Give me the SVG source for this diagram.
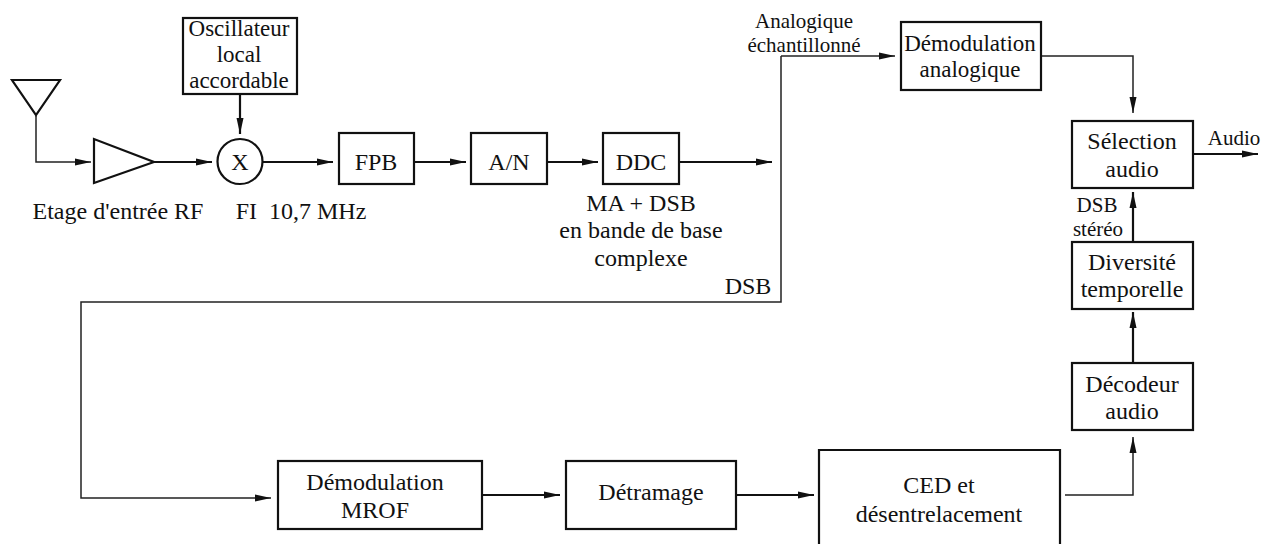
<svg xmlns="http://www.w3.org/2000/svg" width="1261" height="544" viewBox="0 0 1261 544">
<style>
text{font-family:"Liberation Serif","Times New Roman",serif;font-size:24px;fill:#111;text-anchor:middle}
.s{font-size:21px}
.b{fill:#fff;stroke:#111;stroke-width:2.200}
.c{fill:none;stroke:#222;stroke-width:1.500}
.t{fill:none;stroke:#111;stroke-width:2.200}
</style>
<defs>
<marker id="a" markerUnits="userSpaceOnUse" markerWidth="17" markerHeight="9" refX="16" refY="4.500" orient="auto"><path d="M0 1L16 4.500L0 8z" fill="#111"/></marker>
</defs>
<rect width="1261" height="544" fill="#fff"/>
<g id="connectors">
<path class="c" d="M36 116V162H91" marker-end="url(#a)"/>
<path class="t" d="M154 162H212" marker-end="url(#a)"/>
<path class="t" d="M240 94V134" marker-end="url(#a)"/>
<path class="t" d="M263 162H333" marker-end="url(#a)"/>
<path class="t" d="M414 162H466" marker-end="url(#a)"/>
<path class="t" d="M547 162H598" marker-end="url(#a)"/>
<path class="t" d="M679 162H772" marker-end="url(#a)"/>
<path class="c" d="M781 56V302H81V498H271" marker-end="url(#a)"/>
<path class="c" d="M781 56H895" marker-end="url(#a)"/>
<path class="t" d="M482 495H560" marker-end="url(#a)"/>
<path class="t" d="M736 495H814" marker-end="url(#a)"/>
<path class="c" d="M1065 495H1133V437" marker-end="url(#a)"/>
<path class="c" d="M1041 56H1133V113" marker-end="url(#a)"/>
<path class="t" d="M1133 363V312" marker-end="url(#a)"/>
<path class="t" d="M1133 242V192" marker-end="url(#a)"/>
<path class="t" d="M1193 154H1258" marker-end="url(#a)"/>
</g>
<g id="antenna"><path class="t" d="M12 80H60L36 115z"/></g>
<g id="amplificateur"><path class="b" d="M94 139V183L154 162z"/></g>
<g id="oscillateur"><rect class="b" x="183" y="18" width="114" height="76"/><text x="239" y="36" style="font-size:23px">Oscillateur</text><text x="239" y="62" style="font-size:23px">local</text><text x="239" y="88" style="font-size:23px">accordable</text></g>
<g id="mixeur"><circle class="b" cx="240" cy="161.500" r="22.500"/><text x="240" y="170">X</text></g>
<g id="fpb"><rect class="b" x="339" y="133" width="75" height="51"/><text x="376" y="170">FPB</text></g>
<g id="an"><rect class="b" x="471" y="133" width="76" height="51"/><text x="509" y="170">A/N</text></g>
<g id="ddc"><rect class="b" x="603" y="133" width="76" height="51"/><text x="641" y="170">DDC</text></g>
<g id="demod-analogique"><rect class="b" x="901" y="22" width="140" height="68"/><text x="970" y="51" style="font-size:23px">Démodulation</text><text x="970" y="77" style="font-size:23px">analogique</text></g>
<g id="selection"><rect class="b" x="1072" y="121" width="121" height="67"/><text x="1132" y="149">Sélection</text><text x="1132" y="177">audio</text></g>
<g id="diversite"><rect class="b" x="1072" y="242" width="121" height="67"/><text x="1132" y="270">Diversité</text><text x="1132" y="297">temporelle</text></g>
<g id="decodeur"><rect class="b" x="1072" y="363" width="121" height="67"/><text x="1132" y="392">Décodeur</text><text x="1132" y="419">audio</text></g>
<g id="demod-mrof"><rect class="b" x="278" y="461" width="204" height="68"/><text x="375" y="490">Démodulation</text><text x="375" y="518">MROF</text></g>
<g id="detramage"><rect class="b" x="566" y="461" width="170" height="68"/><text x="651" y="500">Détramage</text></g>
<g id="ced"><path class="b" d="M819 546V450H1060V546"/><text x="939" y="493">CED et</text><text x="939" y="522">désentrelacement</text></g>
<g id="labels">
<text x="118" y="219">Etage d'entrée RF</text>
<text x="301" y="219" xml:space="preserve">FI  10,7 MHz</text>
<text x="641" y="211">MA + DSB</text>
<text x="641" y="238">en bande de base</text>
<text x="641" y="266">complexe</text>
<text x="748" y="294">DSB</text>
<text class="s" x="804" y="28">Analogique</text>
<text class="s" x="804" y="52">échantillonné</text>
<text class="s" x="1234" y="145">Audio</text>
<text class="s" x="1097" y="212">DSB</text>
<text class="s" x="1098" y="236">stéréo</text>
</g>
</svg>
